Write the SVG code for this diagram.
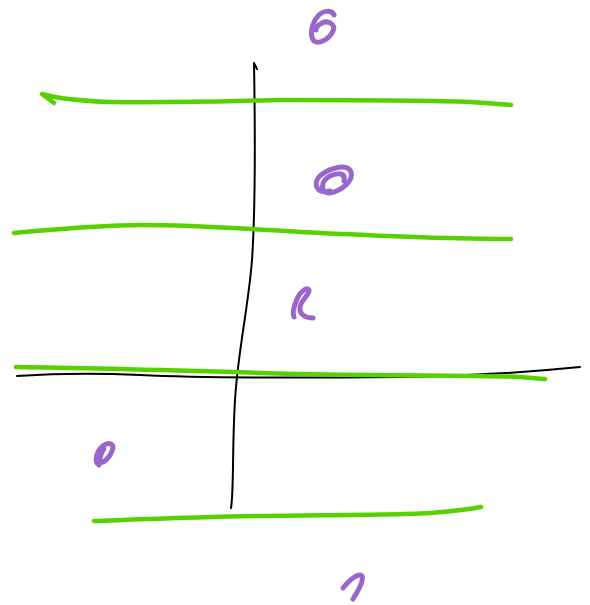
<svg xmlns="http://www.w3.org/2000/svg" width="590" height="605" viewBox="0 0 590 605">
<style>
.g{fill:none;stroke:#5ad000;stroke-width:4.5;stroke-linecap:round;stroke-linejoin:round}
.k{fill:none;stroke:#000;stroke-width:2;stroke-linecap:round;stroke-linejoin:round}
.p{fill:none;stroke:#9966cc;stroke-width:5;stroke-linecap:round;stroke-linejoin:round}
</style>
<rect width="590" height="605" fill="#fff"/>
<g id="axes">
<path class="k" d="M257,69 L254,63 C255,120 256,200 252,260 C248,310 238,350 235,400 C232,450 234,490 231,508"/>
<path class="k" d="M17,376 C60,373 100,373 140,375 C200,378 300,378 400,377 C480,376 540,371 580,367"/>
</g>
<g id="lines">
<path class="g" d="M54,103 L42,94 C60,99 80,101 110,102 C180,103 230,101 280,100 C360,100 430,100 470,102 C490,103 500,104 511,105"/>
<path class="g" d="M14,233 C60,229 100,225 140,225 C200,225 250,229 300,232 C380,236 450,239 511,239"/>
<path class="g" d="M16,367 C100,368 200,371 300,374 C400,376 480,375 520,377 C535,378 542,379 545,379"/>
<path class="g" d="M94,521 C150,519 200,517 260,516 C330,515 400,515 430,513 C455,511 470,509 481,507"/>
</g>
<g id="marks">
<path id="m1" class="p" d="M334,15 C332,10 323,10 318,16 C312,23 309,35 314,41 C320,45 330,38 333,31 C336,24 328,20 322,23 C318,25 316,28 316,30"/>
<path id="m2" class="p" stroke-width="5.5" d="M330,191 C316,195 312,182 321,175 C330,168 347,163 351,172 C354,181 341,191 330,193 C320,194 320,181 330,176 C338,172 346,173 344,181"/>
<path id="m3" class="p" stroke-width="5.5" d="M313,318 C305,318 299,314 300,307 C301,300 310,294 309,290 C307,286 300,292 297,299 C294,306 292,313 294,317"/>
<path id="m4" class="p" d="M99,465 C94,462 96,452 103,446 C109,441 115,444 112,451 C110,457 104,463 101,462 C99,460 101,452 104,449"/>
<path id="m5" class="p" d="M343,588 C348,582 355,575 360,575 C366,576 360,588 353,599"/>
</g>
</svg>
